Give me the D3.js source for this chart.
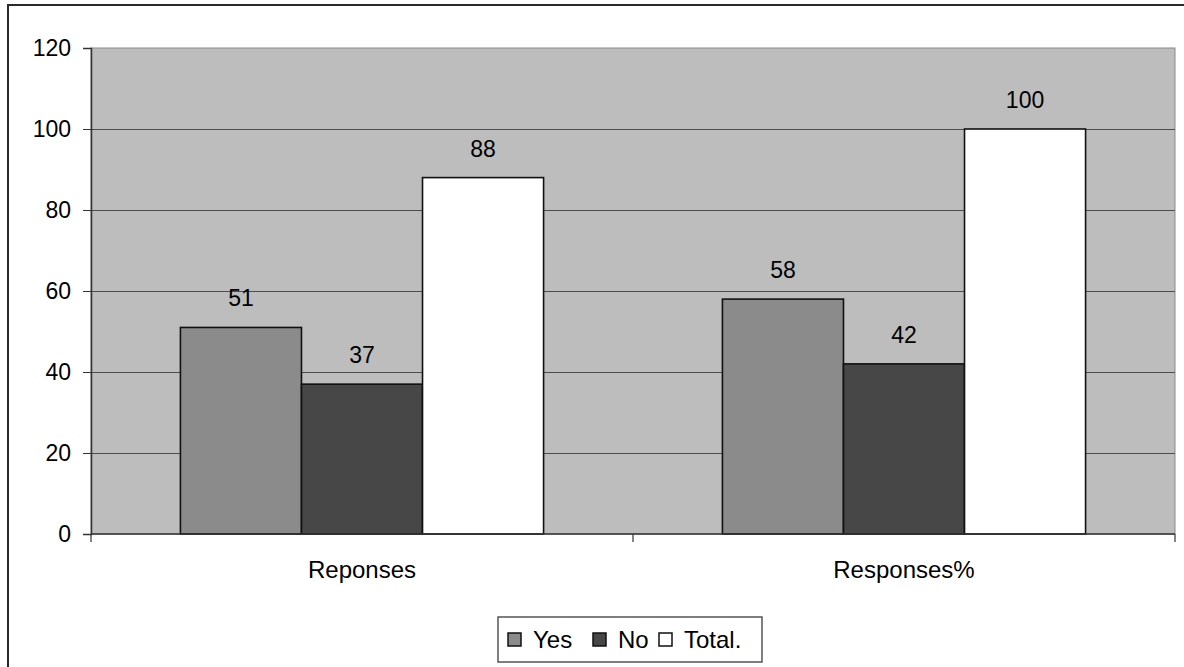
<!DOCTYPE html>
<html>
<head>
<meta charset="utf-8">
<script src="https://cdn.jsdelivr.net/npm/d3@7"></script>
<style>
  html, body { margin: 0; padding: 0; background: #fff; }
  svg { display: block; font-family: "Liberation Sans", Arial, sans-serif; }
</style>
</head>
<body>
<svg id="chart" width="1184" height="667"></svg>
<script>
// Categories along the x axis and one value array per series
const categories = ["Reponses", "Responses%"];
const seriesNames = ["Yes", "No", "Total."];
const yesValues = [51, 58];
const noValues = [37, 42];
const totalValues = [88, 100];
const yTicks = [0, 20, 40, 60, 80, 100, 120];

const seriesColors = ["#8b8b8b", "#474747", "#ffffff"];
const seriesValues = [yesValues, noValues, totalValues];

const svg = d3.select("#chart");

// Outer chart frame (runs off the right and bottom edges)
svg.append("rect")
  .attr("x", 8).attr("y", 5)
  .attr("width", 1200).attr("height", 700)
  .attr("fill", "none").attr("stroke", "#2a2a2a").attr("stroke-width", 2);

const plot = { left: 91, right: 1175, top: 48, bottom: 534 };

const y = d3.scaleLinear().domain([0, 120]).range([plot.bottom, plot.top]);
const x0 = d3.scaleBand().domain(categories)
  .range([plot.left, plot.right])
  .paddingInner(0.33).paddingOuter(0.165);
const x1 = d3.scaleBand().domain(seriesNames)
  .range([0, x0.bandwidth()]).padding(0);

// Plot area background
svg.append("rect")
  .attr("x", plot.left).attr("y", plot.top)
  .attr("width", plot.right - plot.left).attr("height", plot.bottom - plot.top)
  .attr("fill", "#bdbdbd").attr("stroke", "#8a8a8a").attr("stroke-width", 1);

// Horizontal gridlines
svg.append("g").selectAll("line")
  .data(yTicks.filter(d => d > 0 && d < 120))
  .join("line")
  .attr("x1", plot.left).attr("x2", plot.right)
  .attr("y1", d => Math.round(y(d)) + 0.5).attr("y2", d => Math.round(y(d)) + 0.5)
  .attr("stroke", "#4d4d4d").attr("stroke-width", 1);

// Bars
const groups = svg.append("g").selectAll("g")
  .data(categories)
  .join("g")
  .attr("transform", d => `translate(${x0(d)},0)`);

groups.each(function(cat, ci) {
  const g = d3.select(this);
  const rows = seriesNames.map((s, si) => ({ s, si, v: seriesValues[si][ci] }));
  g.selectAll("rect")
    .data(rows)
    .join("rect")
    .attr("x", d => x1(d.s))
    .attr("y", d => y(d.v))
    .attr("width", x1.bandwidth())
    .attr("height", d => y(0) - y(d.v))
    .attr("fill", d => seriesColors[d.si])
    .attr("stroke", "#111").attr("stroke-width", 1.6);
  g.selectAll("text")
    .data(rows)
    .join("text")
    .attr("x", d => x1(d.s) + x1.bandwidth() / 2)
    .attr("y", d => y(d.v) - 21)
    .attr("text-anchor", "middle")
    .attr("font-size", 23)
    .attr("fill", "#000")
    .text(d => d.v);
});

// Y axis
const yAxis = svg.append("g")
  .attr("transform", `translate(${plot.left},0)`)
  .call(d3.axisLeft(y).tickValues(yTicks).tickSize(8).tickPadding(12));
yAxis.select(".domain").attr("stroke", "#333").attr("stroke-width", 1.5);
yAxis.selectAll(".tick line").attr("stroke", "#333");
yAxis.selectAll(".tick text")
  .attr("font-size", 23).attr("fill", "#000")
  .attr("font-family", "Liberation Sans, Arial, sans-serif");

// X axis: baseline, category dividers and labels
const xAxis = svg.append("g");
xAxis.append("line")
  .attr("x1", plot.left).attr("x2", plot.right)
  .attr("y1", plot.bottom).attr("y2", plot.bottom)
  .attr("stroke", "#333").attr("stroke-width", 1.5);
const dividers = [plot.left, ...categories.slice(1).map(c => x0(c) - x0.step() * x0.paddingInner() / 2), plot.right];
xAxis.selectAll("line.div")
  .data(dividers)
  .join("line")
  .attr("class", "div")
  .attr("x1", d => d).attr("x2", d => d)
  .attr("y1", plot.bottom).attr("y2", plot.bottom + 8)
  .attr("stroke", "#333").attr("stroke-width", 1.2);
xAxis.selectAll("text")
  .data(categories)
  .join("text")
  .attr("x", d => x0(d) + x0.bandwidth() / 2)
  .attr("y", 578)
  .attr("text-anchor", "middle")
  .attr("font-size", 24)
  .attr("fill", "#000")
  .text(d => d);

// Legend
const legend = svg.append("g");
legend.append("rect")
  .attr("x", 498).attr("y", 617)
  .attr("width", 264).attr("height", 45)
  .attr("fill", "#fff").attr("stroke", "#555").attr("stroke-width", 1.5);
const legendX = [508, 593, 659];
const items = legend.selectAll("g")
  .data(seriesNames)
  .join("g")
  .attr("transform", (d, i) => `translate(${legendX[i]},633)`);
items.append("rect")
  .attr("width", 13).attr("height", 13)
  .attr("fill", (d, i) => seriesColors[i])
  .attr("stroke", "#111").attr("stroke-width", 1.5);
items.append("text")
  .attr("x", 25).attr("y", 15)
  .attr("font-size", 24)
  .attr("fill", "#000")
  .text(d => d);
</script>
</body>
</html>
